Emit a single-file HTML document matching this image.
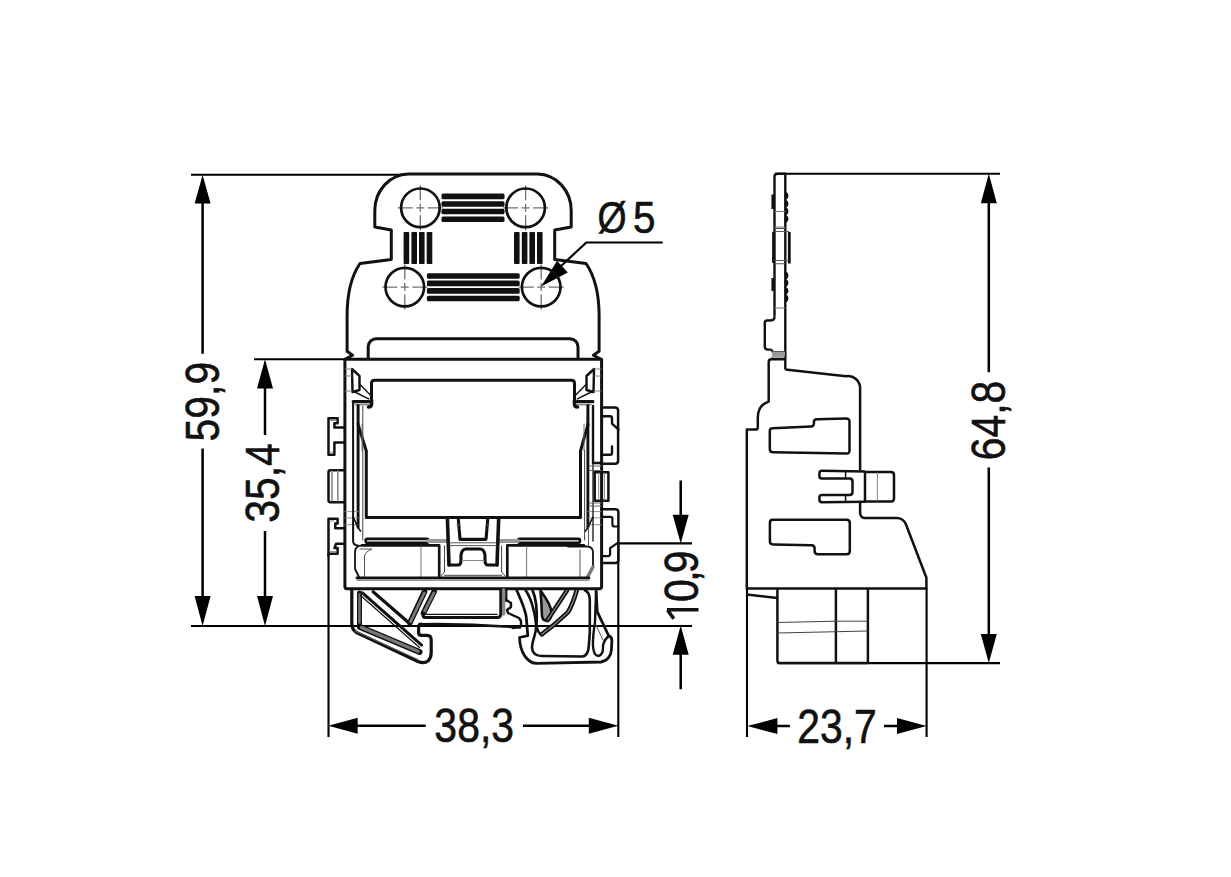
<!DOCTYPE html>
<html><head><meta charset="utf-8">
<style>
html,body{margin:0;padding:0;background:#fff;width:1231px;height:877px;overflow:hidden}
svg{display:block}
text{font-family:"Liberation Sans",sans-serif;fill:#111}
</style></head><body>
<svg width="1231" height="877" viewBox="0 0 1231 877">
<rect width="1231" height="877" fill="#fff"/>
<g id="cmarks" stroke="#707070" stroke-width="1.3" fill="none"><path d="M397.8,207.8H412.8 M416.3,207.8H424.3 M427.8,207.8H442.8 M420.3,185.3V200.3 M420.3,203.8V211.8 M420.3,215.3V230.3 M503.1,207.8H518.1 M521.6,207.8H529.6 M533.1,207.8H548.1 M525.6,185.3V200.3 M525.6,203.8V211.8 M525.6,215.3V230.3 M382.3,287.1H397.3 M400.8,287.1H408.8 M412.3,287.1H427.3 M404.8,264.6V279.6 M404.8,283.1V291.1 M404.8,294.6V309.6 M518.7,287.1H533.7 M537.2,287.1H545.2 M548.7,287.1H563.7 M541.2,264.6V279.6 M541.2,283.1V291.1 M541.2,294.6V309.6"/></g>
<g id="dims" stroke="#000" stroke-width="2.5" fill="none">
  <path stroke-width="2.1" d="M191,174.8H402 M254,359.3H346 M191,626H692 M619,543.4H692 M328.5,553V737 M618.3,543V737 M747,588V737 M926.6,588V737 M775,173.7H1000 M777,663.1H1000"/>
  <path d="M202.6,200V353.7 M202.6,448.6V600 M265,385V434.9 M265,531V600 M680.7,480.5V518 M680.7,651V689.2 M355,725.8H425.8 M523,725.8H591 M775,726.1H789.9 M884,726.1H899 M988.8,200V372.3 M988.8,467.4V637"/>
  <path stroke-width="2.2" d="M662.7,242.5H586.3L560,267"/>
</g>
<g id="arrows" fill="#000" stroke="none">
  <path d="M202.6,175L194.6,203.6H210.6Z M202.6,626L194.6,596H210.6Z"/>
  <path d="M265,359.3L257,388.4H273Z M265,626L257,596H273Z"/>
  <path d="M680.7,543.4L672.7,514.7H688.7Z M680.7,625.5L672.7,654.7H688.7Z"/>
  <path d="M328.3,725.8L357.7,717.8V733.8Z M618.3,725.8L588.8,717.8V733.8Z"/>
  <path d="M747.3,726.1L777.4,718.1V734.1Z M926.6,726.1L897,718.1V734.1Z"/>
  <path d="M988.8,173.7L980.8,203.3H996.8Z M988.8,663.1L980.8,634H996.8Z"/>
  <path d="M541.1,286.4L557.1,260.8L567.8,272.6Z"/>
</g>
<g id="texts" stroke="#111" stroke-width="0.6">
  <text transform="translate(218.5,401.6) rotate(-90) scale(0.858,1)" font-size="47.7" text-anchor="middle">59,9</text>
  <text transform="translate(278.5,483) rotate(-90) scale(0.858,1)" font-size="47.7" text-anchor="middle">35,4</text>
  <text transform="translate(697.5,602) rotate(-90) scale(0.858,1)" font-size="47.7">0<tspan dx="-2.9">,</tspan><tspan dx="-3.5">9</tspan></text><path d="M667,609.7H698.5 M667.5,610L673.8,618.8" stroke-width="3.6" fill="none"/>
  <text transform="translate(1004.5,420.5) rotate(-90) scale(0.858,1)" font-size="47.7" text-anchor="middle">64,8</text>
  <text transform="translate(474.2,742.2) scale(0.858,1)" font-size="47.7" text-anchor="middle">38,3</text>
  <text transform="translate(837,743.3) scale(0.858,1)" font-size="47.7" text-anchor="middle">23,7</text>
  <text transform="translate(597.5,233.4) scale(0.85,1)" font-size="44">Ø</text>
  <text transform="translate(633,233.4) scale(0.92,1)" font-size="44">5</text>
</g>
<g id="front" stroke="#111" stroke-width="3" fill="none" stroke-linejoin="round">
  <path d="M408.4,174H537.6A34,36.6 0 0 1 571.2,210.6V227.1L554.7,230V259.4L586,263.5C594,275 599.1,292 599.1,316V351.3L593.4,355.2L600.5,359 M345.5,359L352.6,355.2L347.1,351.3V316C347.1,292 352,275 360,263.5L391.3,259.4V230L374.8,227.1V210.6A34,36.6 0 0 1 408.4,174"/>
  <path d="M368.2,359.3V346.8A8,8 0 0 1 376.2,338.8H570A8,8 0 0 1 578,346.8V359.3"/>
  <path d="M344.9,359.3H601.6V586.5Q601.6,588.7 599.4,588.7H347.1Q344.9,588.7 344.9,586.5Z"/>
  <circle cx="420.4" cy="207.8" r="19.3" stroke-width="2.7"/>
  <circle cx="525.6" cy="207.8" r="19.3" stroke-width="2.7"/>
  <circle cx="404.8" cy="287.1" r="19.3" stroke-width="2.7"/>
  <circle cx="541.2" cy="287.1" r="19.3" stroke-width="2.7"/>
</g>
<g id="bars" fill="#111">
  <rect x="441.5" y="193.6" width="63" height="5.6" rx="1.5"/>
  <rect x="441.5" y="201.2" width="63" height="5.6" rx="1.5"/>
  <rect x="441.5" y="208.7" width="63" height="5.6" rx="1.5"/>
  <rect x="441.5" y="216.4" width="63" height="5.6" rx="1.5"/>
  <rect x="426.9" y="273.2" width="92.8" height="5.6" rx="1.5"/>
  <rect x="426.9" y="280.6" width="92.8" height="5.6" rx="1.5"/>
  <rect x="426.9" y="288.1" width="92.8" height="5.6" rx="1.5"/>
  <rect x="426.9" y="295.7" width="92.8" height="5.6" rx="1.5"/>
  <rect x="403.6" y="232" width="5.6" height="32" rx="0.8"/>
  <rect x="411.4" y="232" width="5.6" height="32" rx="0.8"/>
  <rect x="419.0" y="232" width="5.6" height="32" rx="0.8"/>
  <rect x="426.7" y="232" width="5.6" height="32" rx="0.8"/>
  <rect x="514.0" y="232" width="5.6" height="32" rx="0.8"/>
  <rect x="521.8" y="232" width="5.6" height="32" rx="0.8"/>
  <rect x="529.4" y="232" width="5.6" height="32" rx="0.8"/>
  <rect x="537.0" y="232" width="5.6" height="32" rx="0.8"/>
</g>


<g id="fbody" stroke="#111" stroke-width="3" fill="none" stroke-linejoin="round" stroke-linecap="round">
  <!-- window -->
  <path d="M371.5,403V383.3Q371.5,380.3 374.5,380.3H571.5Q574.5,380.3 574.5,383.3V403"/>
  <path d="M353.1,401.6H369 M577,401.6H593" stroke-width="3.12"/><path d="M355,404.8H369 M577,404.8H591" stroke-width="1.0" stroke="#555"/><path d="M371.5,400V404Q371.5,407 368.5,407 M574.5,400V404Q574.5,407 577.5,407" stroke-width="3.6"/>
  <path d="M358.1,405.5V424.6L366.3,451V517.4H580.5V451L587.9,424.6V405.5" /><path d="M358.1,424V527.6 M587.9,424V527.6" stroke-width="2.88"/><path d="M362.8,406V540 M584.6,450V540" stroke-width="1.0" stroke="#444"/><path d="M593,406V463 M601.6,463H593" stroke-width="2.4"/><path d="M345,511.6H358 M345,517.9H358 M345,524.7H358 M601,511.6H588 M601,517.9H588 M601,524.7H588" stroke-width="0.9" stroke="#888"/><path d="M353.1,517L358.1,527.6L360.5,531 M593,517L587.9,527.6L585.5,531" stroke-width="1.6"/>
  <path d="M353.1,402V541Q353.1,545.4 358,545.4" stroke-width="2"/><path d="M593,463V541" stroke-width="1.3"/>
  <path d="M362,424V451 M584,424V451" stroke-width="0.9" stroke="#666"/>
  <!-- top latches -->
  <path d="M352,369L359.5,376V390L352.5,392Z M594,369L586.5,376V390L593.5,392Z" stroke-width="2.4"/>
  <path d="M345,369H352 M345,376H352 M345,391H352 M601,369H594 M601,376H594 M601,391H594" stroke-width="0.9" stroke="#777"/>
  <path d="M359.5,384L369.8,394.4 M353.8,391.5L368.6,398.9 M586.5,384L576.2,394.4 M592.2,391.5L577.4,398.9" stroke-width="1.4"/>
  <!-- left clips -->
  <path d="M344.4,427.4H334.4V423.3H337.6V418.2H328.5V454.7H334.4V442.4H344.4" stroke-width="2.5"/>
  <path d="M344.4,470.2H330.5Q328.5,470.2 328.5,472.2V500.3Q328.5,502.3 330.5,502.3H344.4" stroke-width="2.5"/>
  <path d="M332,471V501 M337.8,471V501" stroke-width="1.6" stroke="#888"/>
  <path d="M344.4,528.3H335.3V523.5H337.6V518.7H328.5V556 M344.4,543.8H336L334.5,548H337.6V553.8H328.5" stroke-width="2.5"/>
  <path d="M330,420.5H336 M330,452H333 M330,551.5H336 M330,521H334" stroke-width="0.9" stroke="#888"/>
  <!-- right clips -->
  <path d="M601.6,407.5H615.1Q618.1,407.5 618.1,410.5V460.7Q618.1,463.7 615.1,463.7H601.6" stroke-width="2.5"/>
  <path d="M601.6,416.2H610Q612,416.2 612,418.2V423.7L618.5,429.5 M601.6,454.8H610Q612,454.8 612,452.8V446.5" stroke-width="2.4"/>
  <path d="M594.7,472.2H608.4V500.8H594.7Z" stroke-width="2.5"/>
  <path d="M598.7,473V500 M604.4,473V500" stroke-width="1.0" stroke="#888"/>
  <path d="M589.6,466H601.6 M589.6,470.5H601.6 M589.6,503H601.6 M589.6,506H601.6" stroke-width="1.0" stroke="#666"/>
  <path d="M601.6,509.3H615.4Q618.4,509.3 618.4,512.3V560.1Q618.4,563.1 615.4,563.1H601.6" stroke-width="2.5"/>
  <path d="M601.6,516.8H610.4Q612.4,516.8 612.4,518.8V524.5Q612.4,526.5 614.4,526.5H618.4 M618.4,542.4L610.1,548.1V554.1Q610.1,556.1 608.1,556.1H601.6" stroke-width="2.2"/>
  <!-- bars -->
  <rect x="365.7" y="538.9" width="62.7" height="3.9" rx="1.5" stroke-width="2.64"/>
  <rect x="518.1" y="538.9" width="61.8" height="3.9" rx="1.5" stroke-width="2.64"/>
  <path d="M428.5,541H447 M499,541H518" stroke-width="4.0" stroke="#999"/>
  <!-- bottom section -->
  <path d="M362,545.4H439.2V577 M584,545.4H507.3V577" stroke-width="2.64"/>
  <path d="M362,545.4Q355,546 355,552V569L359,577 M568,546.5H588Q593,547 593,553V567" stroke-width="1.8"/><path d="M593,567L587.5,577" stroke-width="3.5" stroke="#777"/>
  <path d="M360,549H372Q365,552 364.5,556V577 M580,550V577 M588.5,527V545" stroke-width="1" stroke="#555"/>
  <path d="M421,546V577 M526.6,546V577" stroke-width="0.9" stroke="#666"/>
  <path d="M357,577.9H589" stroke-width="2.88"/>
  <path d="M357,580.2H589" stroke-width="0.9" stroke="#555"/>
  <!-- latch -->
  <path d="M447.4,517.7L449,565 M498.7,517.7L497,565" stroke-width="3.6"/>
  <path d="M458.2,517.7L460,539.4H486L487.9,517.7" stroke-width="3.12"/>
  <path d="M449,542.8H497 M449,545.6H497" stroke-width="0.9" stroke="#444"/>
  <path d="M449,565H458Q461,565 461,560V555Q462,549 466,549H480Q484,549 485,555V560Q485,565 488,565H497" stroke-width="3.12"/>
  <path d="M462,560.5H484" stroke-width="1.0" stroke="#888"/>
  <path d="M444.5,546V572L441,576 M501.6,546V572L505,576 M444.5,575.3H501.6" stroke-width="1.0" stroke="#444"/>
  <path d="M456,525H459 M487,525H490" stroke-width="0.8" stroke="#888"/>
</g>
<g id="feet" stroke="#111" stroke-width="2.6" fill="none" stroke-linejoin="round" stroke-linecap="round">
  <!-- left foot -->
  <path d="M351.8,589.4V624Q351.8,630 357,632.8L418,661.5Q424,664 428,661Q431.2,658 431.2,652.8V640Q431.2,635.4 427,635.4H421.6Q418.6,635.4 418.6,632.4V627Q418.6,624.2 421.6,624.2" stroke-width="3.2"/>
  <path d="M355,631L418,659.5" stroke-width="1" stroke="#666"/>
  <path d="M359.5,593V624" stroke-width="5"/>
  <path d="M359.5,594.5V622.5" stroke-width="2.4" stroke="#777"/>
  <path d="M360,627L419.5,652" stroke-width="6"/>
  <path d="M361.5,627.6L418,651.3" stroke-width="3.2" stroke="#777"/>
  <path d="M362.4,592.8L421.6,645.1" stroke-width="3"/>
  <path d="M360.3,595.2L419.5,647.5" stroke-width="1.2"/>
  <path d="M373.1,591.8L409.9,623.8" stroke-width="3.2"/>
  <path d="M424.5,591.8L409.9,622.8 M434.1,591.8L423.5,613.1" stroke-width="5.6"/>
  <path d="M424.2,593L410.6,621.6 M433.8,593L424,612.3" stroke-width="2.8" stroke="#777"/>
  <path d="M423.5,613.1Q421.5,617.5 426,617.5H497Q500.8,617.5 500.8,614V590" stroke-width="3"/>
  <path d="M426,614.3H497" stroke-width="1.2"/>
  <path d="M503.6,590V614" stroke-width="3.4" stroke="#888"/>
  <path d="M506.3,590V601" stroke-width="2.2"/>
  <path d="M421.6,624.2Q470,623.5 520,627.5" stroke-width="2.6"/>
  <!-- center notch piece -->
  <path d="M506.3,600L511,603V607L507,610L508,613L519,618L521,621V626L513,628" stroke-width="2.4"/>
  <!-- right foot -->
  <path d="M516.8,590.5C522,602 526.4,612 526.4,619.2L527.8,635.6L519.5,637.5C520,652 527,663.4 537,663.4L601,662C607,661 611,656 611.4,650L611.9,640Q611,636 608.8,636L597.2,611.7L596.1,591" stroke-width="2.8"/>
  <path d="M525.7,590.5C531,598 535,612 536,624C537,633 532,640 532,648C532.5,654 536,656 542.2,656L582.4,656.5C586,656 588,653 588.6,648L589.8,632.8V600Q589.5,592 585,590.5" stroke-width="2.6"/>
  <path d="M532.6,590.5C537,600 537,615 536.5,624C537,630 539,634 541.8,634.3" stroke-width="2.8"/>
  <path d="M541.8,634.3C552,627 562,618 567.8,612.4C572,606 574.5,598 576.7,590.5" stroke-width="4.6"/>
  <path d="M541.8,634.3C552,627 562,618 567.8,612.4C572,606 574.5,598 576.7,590.5" stroke-width="1.3" stroke="#888"/>
  <path d="M540.5,590.5C546,598 551.4,606 551.4,612.4C551.4,618 549,620.6 546,620.6C543,620.6 541.8,617 541.8,613C541.8,606 541,598 540.5,590.5Z" stroke-width="2.6" fill="#999"/>
  <path d="M547.5,620L567,590.5" stroke-width="4.6"/>
  <path d="M547.5,620L567,590.5" stroke-width="1.3" stroke="#888"/>
  <path d="M596.1,591L595,622Q592.9,635 592.9,645Q593.5,656 598.2,656Q603,655 603,648V645.5Q604,640 608.8,636" stroke-width="2.4"/>
  <path d="M596,625L603,640" stroke-width="1" stroke="#555"/>
</g>

<g id="side" stroke="#111" stroke-width="2.5" fill="none" stroke-linejoin="round">
  <!-- plate -->
  <path d="M774.5,316.5V176.5Q774.5,173.7 777.5,173.7H785.3V369.4" stroke-width="2.4"/>
  <path d="M774.5,316.5Q774.5,320.5 770.5,320.5H767Q764.8,320.5 764.8,323V346.5Q764.8,349.6 768,349.6H771L773,352" stroke-width="2.4"/>
  <path d="M773,194.6V208.9 M773,278V291" stroke-width="3.12"/>
  <path d="M773.5,231.7V263 M789.3,232V263.5" stroke-width="2.8"/><path d="M774.5,228.5H785.3 M774.5,231.5H789 M774.5,260.5H789 M774.5,263.8H785.3" stroke-width="1.1" stroke="#555"/>
  <path d="M785.3,193.0a3,3 0 0 1 0,5.6 M785.3,200.9a3,3 0 0 1 0,5.6 M785.3,208.4a3,3 0 0 1 0,5.6 M785.3,216.3a3,3 0 0 1 0,5.6 M785.3,272.7a3,3 0 0 1 0,5.6 M785.3,280.1a3,3 0 0 1 0,5.6 M785.3,288.1a3,3 0 0 1 0,5.6 M785.3,295.5a3,3 0 0 1 0,5.6" stroke-width="2.6" fill="#111"/><path d="M774.5,211.5H785.3 M774.5,227.1H785.3 M774.5,308H785.3" stroke-width="1" stroke="#777"/><path d="M770.5,349.6L773.5,353.7H785.3 M771,351.5H785 M771,357H785" stroke-width="1.2" stroke="#555"/><rect x="772" y="352" width="13" height="4.5" fill="#999" stroke="none"/>
  <!-- body -->
  <path d="M785.3,369.4L846,376.3A12,12 0 0 1 860.1,388.5V470.7 M860.1,502.5V513A5,5 0 0 0 865,518H896A10,10 0 0 1 906,524.5L926.4,577.8V588.5H746.8V429.6H755.5Q757.8,429.6 757.8,426.9V418Q757.8,405 768.7,401.6V362Q768.7,359.2 771.5,359.2H785.3"/>
  <path d="M772.5,428.3L811,426.5Q813.9,426.4 813.9,423.5V422Q813.9,419.3 817,419.2L846,418.5Q849.5,418.4 849.5,421.5V450.5Q849.5,453.6 846.5,453.5L773,452.3Q769.8,452.3 769.8,449V431Q769.8,428.3 772.5,428.3Z"/>
  <path d="M772.5,519.8L846.5,519.7Q849.8,519.7 849.8,523V551Q849.8,554.3 846.5,554.3L818,554.2Q814.6,554.2 814.6,551V548.5Q814.6,545.4 811.5,545.3L773,544.5Q769.9,544.4 769.9,541.3V523Q769.9,519.8 772.5,519.8Z"/>
  <!-- clip -->
  <path d="M865,472H891Q894,472 894,475V498.5Q894,501.5 891,501.5H865Z"/>
  <path d="M865,471.4L822,470.8Q819.4,470.8 819.4,473.5V476Q819.4,478.6 822,478.6H849.5Q852.5,478.6 852.5,481.5V492Q852.5,495 849.5,495H822Q819.4,495 819.4,497.5V499.5Q819.4,502.2 822,502.2L865,501.8"/>
  <path d="M845.6,470.8V478.6 M845.6,495V502.2" stroke-width="1.5"/>
  <path d="M877.4,472V501.5" stroke-width="0.9" stroke="#777"/>
  <!-- foot -->
  <path d="M746.8,594.5L777.4,598" stroke-width="2.4"/>
  <path d="M777.4,588.5V660.5Q777.4,663.1 780,663.1H867.9V588.5 M835.9,588.5V663.1"/>
  <path d="M777.4,622.5L835.9,621.2 M835.9,621.2H867.9 M777.4,633L867.9,631" stroke-width="1.0" stroke="#444"/>
</g>
</svg>
</body></html>
